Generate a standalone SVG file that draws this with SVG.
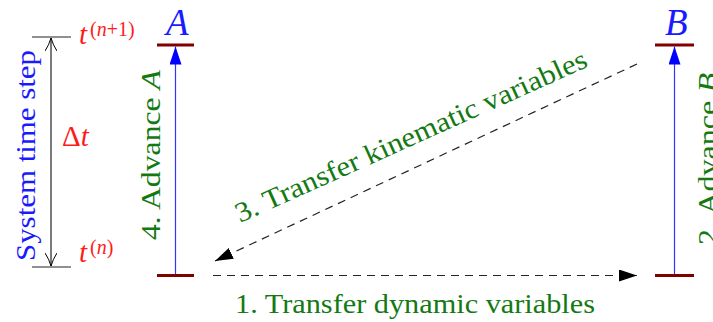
<svg xmlns="http://www.w3.org/2000/svg" width="713" height="322" viewBox="0 0 713 322">
<style>
.lbl{font-family:"Liberation Serif","DejaVu Serif",serif;font-size:28px;fill:#137a13}
.red{font-family:"Liberation Serif","DejaVu Serif",serif;fill:#ff1a1a}
.blue{font-family:"Liberation Serif","DejaVu Serif",serif;fill:#1a1aff}
.bar{stroke:#800000;stroke-width:3}
.adv{stroke:#3333ff;stroke-width:1.2}
.dash{stroke:#222;stroke-width:1.2;stroke-dasharray:8 6;fill:none}
.tick{stroke:#222;stroke-width:1.2}
</style>
<defs>
<marker id="fill" viewBox="0 0 18 12" refX="18" refY="6" markerWidth="18" markerHeight="12" markerUnits="userSpaceOnUse" orient="auto">
<path d="M0,0 L18,6 L0,12 Z" fill="#000"/>
</marker>
<marker id="fillblue" viewBox="0 0 18 12" refX="18" refY="6" markerWidth="18" markerHeight="12" markerUnits="userSpaceOnUse" orient="auto">
<path d="M0,0 L18,6 L0,12 Z" fill="#0000ff"/>
</marker>
<marker id="open" viewBox="0 0 14 12" refX="13" refY="6" markerWidth="14" markerHeight="12" markerUnits="userSpaceOnUse" orient="auto">
<path d="M0,0 Q6,4 13,6 Q6,8 0,12" fill="none" stroke="#000" stroke-width="1"/>
</marker>
</defs>

<g id="timestep">
<line class="tick" x1="32" y1="37" x2="71" y2="37"/>
<line class="tick" x1="32" y1="267" x2="71" y2="267"/>
<line class="tick" x1="51" y1="152" x2="51" y2="38" marker-end="url(#open)"/>
<line class="tick" x1="51" y1="152" x2="51" y2="266" marker-end="url(#open)"/>
<text class="blue" font-size="28" transform="translate(35,261) rotate(-90)" textLength="211" lengthAdjust="spacingAndGlyphs">System time step</text>
<text class="red" x="79" y="44" font-size="29" font-style="italic">t</text>
<text class="red" x="90" y="36" font-size="20">(<tspan font-style="italic">n</tspan>+1)</text>
<text class="red" x="79" y="262" font-size="29" font-style="italic">t</text>
<text class="red" x="90" y="254" font-size="20">(<tspan font-style="italic">n</tspan>)</text>
<text class="red" x="62" y="146" font-size="29">Δ<tspan font-style="italic">t</tspan></text>
</g>

<g id="nodeA">
<line class="bar" x1="157" y1="45" x2="194" y2="45"/>
<line class="bar" x1="157" y1="275.5" x2="194" y2="275.5"/>
<text class="blue" x="166" y="35" font-size="37" font-style="italic">A</text>
</g>

<g id="nodeB">
<line class="bar" x1="655" y1="45" x2="694" y2="45"/>
<line class="bar" x1="655" y1="275.5" x2="694" y2="275.5"/>
<text class="blue" x="665" y="35" font-size="37" font-style="italic">B</text>
</g>

<g id="connectors">
<line class="adv" x1="175.5" y1="274" x2="175.5" y2="46.5" marker-end="url(#fillblue)"/>
<line class="adv" x1="674.5" y1="274" x2="674.5" y2="46.5" marker-end="url(#fillblue)"/>
<line class="dash" x1="213" y1="275.5" x2="637" y2="275.5" marker-end="url(#fill)"/>
<line class="dash" x1="637" y1="64" x2="215" y2="261" marker-end="url(#fill)"/>
<text class="lbl" transform="translate(160,240) rotate(-90)" textLength="170" lengthAdjust="spacingAndGlyphs">4. Advance <tspan font-style="italic">A</tspan></text>
<text class="lbl" transform="translate(717,245) rotate(-90)" textLength="172" lengthAdjust="spacingAndGlyphs">2. Advance <tspan font-style="italic">B</tspan></text>
<text class="lbl" transform="translate(240,223) rotate(-24.2)" textLength="383" lengthAdjust="spacingAndGlyphs">3. Transfer kinematic variables</text>
<text class="lbl" x="235" y="313" textLength="360" lengthAdjust="spacingAndGlyphs">1. Transfer dynamic variables</text>
</g>
</svg>
